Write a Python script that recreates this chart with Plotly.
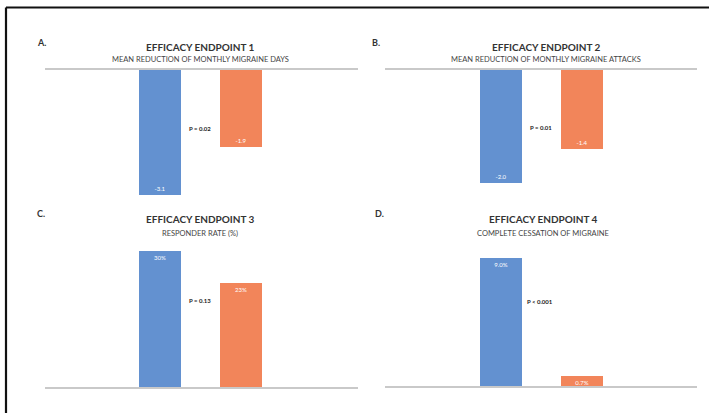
import plotly.graph_objects as go

W, H = 709, 413

# ---- data ----
groups = [0, 1]  # treatment (blue), comparator (orange)
ep1_values = [-3.1, -1.9]
ep1_labels = ["-3.1", "-1.9"]
ep2_values = [-2.0, -1.4]
ep2_labels = ["-2.0", "-1.4"]
ep3_values = [30, 23]
ep3_labels = ["30%", "23%"]
ep4_values = [9.0, 0.7]
ep4_labels = ["9.0%", "0.7%"]

panel_letters = ["A.", "B.", "C.", "D."]
panel_titles = ["EFFICACY ENDPOINT 1", "EFFICACY ENDPOINT 2", "EFFICACY ENDPOINT 3", "EFFICACY ENDPOINT 4"]
panel_subtitles = ["MEAN REDUCTION OF MONTHLY MIGRAINE DAYS", "MEAN REDUCTION OF MONTHLY MIGRAINE ATTACKS",
                   "RESPONDER RATE (%)", "COMPLETE CESSATION OF MIGRAINE"]
p_values = ["P = 0.02", "P = 0.01", "P = 0.13", "P < 0.001"]

BLUE = "#6391d0"
ORANGE = "#f2855a"
FONT = "Lato"


def px(x):
    return x / W


def py(y):
    return 1 - y / H


fig = go.Figure()

series = [(ep1_values, ep1_labels), (ep2_values, ep2_labels), (ep3_values, ep3_labels), (ep4_values, ep4_labels)]
# pixel layout of each panel: x-left, x-right, y-top, y-bottom, y-range
panels = [
    dict(x0=45, x1=358, yt=70, yb=200, yr=[-3.226, 0], side="top"),
    dict(x0=385, x1=697, yt=70, yb=200, yr=[-2.30, 0], side="top"),
    dict(x0=45, x1=358, yt=245, yb=387, yr=[0, 31.3], side="bottom"),
    dict(x0=385, x1=697, yt=245, yb=386, yr=[0, 9.93], side="bottom"),
]
xranges = [[-1.42, 2.444], [-1.432, 2.42], [-1.42, 2.444], [-1.432, 2.42]]

for i, ((vals, labs), p) in enumerate(zip(series, panels)):
    n = "" if i == 0 else str(i + 1)
    fig.add_trace(go.Bar(
        x=groups, y=vals, text=labs, width=0.52,
        marker=dict(color=[BLUE, ORANGE], line=dict(width=0)),
        textposition="inside", insidetextanchor="end", constraintext="none",
        textfont=dict(color="white", size=6, family=FONT),
        xaxis="x" + n, yaxis="y" + n, showlegend=False, hoverinfo="skip",
    ))
    fig.layout["xaxis" + n] = dict(
        domain=[px(p["x0"]), px(p["x1"])], range=xranges[i], anchor="y" + n,
        showline=True, linecolor="#c9c9c9", linewidth=2, side=p["side"],
        showticklabels=False, ticks="", showgrid=False, zeroline=False, fixedrange=True,
    )
    fig.layout["yaxis" + n] = dict(
        domain=[py(p["yb"]), py(p["yt"])], range=p["yr"], anchor="x" + n,
        visible=False, showgrid=False, zeroline=False, fixedrange=True,
    )

annotations = []
letter_pos = [(35, 43), (370, 43), (35, 213), (373, 213)]
title_pos = [(200, 47, 60), (546, 47, 60), (200, 219, 233), (543, 219, 233)]
p_pos = [(200, 128), (541, 127), (200, 300), (540, 301)]
for i in range(4):
    lx, ly = letter_pos[i]
    annotations.append(dict(x=px(lx), y=py(ly), xref="paper", yref="paper", text="<b>" + panel_letters[i] + "</b>",
                            showarrow=False, xanchor="left", yanchor="middle",
                            font=dict(size=9, color="#333333", family=FONT)))
    tx, ty, sy = title_pos[i]
    annotations.append(dict(x=px(tx), y=py(ty), xref="paper", yref="paper", text="<b>" + panel_titles[i] + "</b>",
                            showarrow=False, xanchor="center", yanchor="middle",
                            font=dict(size=10, color="#333333", family=FONT)))
    annotations.append(dict(x=px(tx), y=py(sy), xref="paper", yref="paper", text=panel_subtitles[i],
                            showarrow=False, xanchor="center", yanchor="middle",
                            font=dict(size=7.5, color="#444444", family=FONT)))
    ppx, ppy = p_pos[i]
    annotations.append(dict(x=px(ppx), y=py(ppy), xref="paper", yref="paper", text="<b>" + p_values[i] + "</b>",
                            showarrow=False, xanchor="center", yanchor="middle",
                            font=dict(size=6, color="#222222", family=FONT)))

shapes = [
    dict(type="line", xref="paper", yref="paper", x0=px(6), x1=1, y0=py(7.5), y1=py(7.5),
         line=dict(color="#111111", width=2.2)),
    dict(type="line", xref="paper", yref="paper", x0=px(6), x1=px(6), y0=0, y1=py(7.5),
         line=dict(color="#111111", width=2.2)),
]

fig.update_layout(
    width=W, height=H, margin=dict(l=0, r=0, t=0, b=0),
    paper_bgcolor="white", plot_bgcolor="rgba(0,0,0,0)",
    annotations=annotations, shapes=shapes, bargap=0,
    font=dict(family=FONT),
)

fig.write_html("out.html", config={"displayModeBar": False})
